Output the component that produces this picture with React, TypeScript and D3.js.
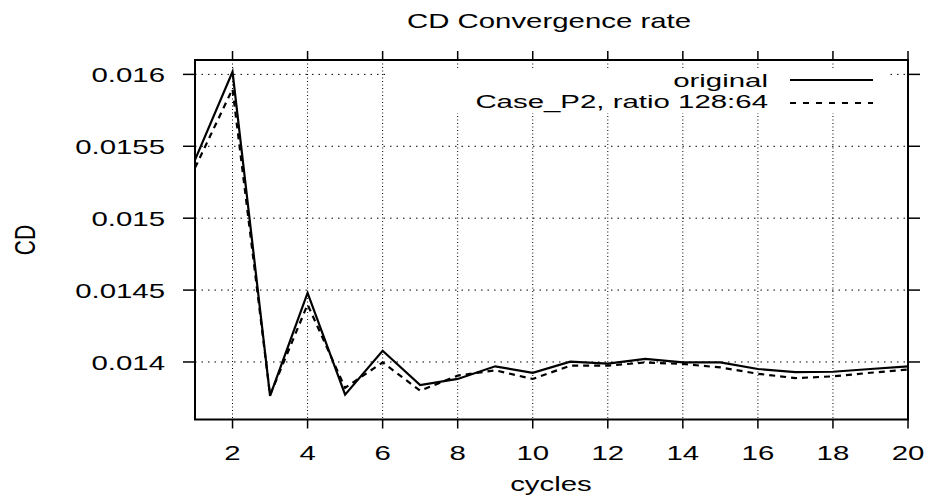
import React from "react";
import * as d3 from "d3";

const cycles = [1, 2, 3, 4, 5, 6, 7, 8, 9, 10, 11, 12, 13, 14, 15, 16, 17, 18, 19, 20];
const originalCD = [0.015405, 0.016018, 0.013765, 0.01448, 0.013773, 0.014078, 0.01384, 0.013882, 0.01397, 0.013924, 0.014002, 0.013988, 0.014021, 0.013997, 0.013997, 0.013951, 0.01393, 0.013932, 0.013951, 0.01397];
const caseP2CD = [0.01535, 0.015898, 0.01377, 0.0144, 0.01382, 0.013997, 0.0138, 0.013905, 0.013942, 0.013882, 0.013974, 0.013974, 0.013997, 0.013986, 0.013962, 0.013918, 0.013888, 0.0139, 0.013925, 0.013947];
const xTicks = [2, 4, 6, 8, 10, 12, 14, 16, 18, 20];
const yTicks = [0.014, 0.0145, 0.015, 0.0155, 0.016];
const yTickLabels = ["0.014", "0.0145", "0.015", "0.0155", "0.016"];
const seriesNames = ["original", "Case_P2, ratio 128:64"];

const W = 929;
const H = 504;
const L = 195, R = 908, T = 60, B = 419.5;
const FONT = "'Liberation Sans', Arial, Helvetica, sans-serif";
const FS = 21;
const SX = 1.4;

export default function App() {
  const x = d3.scaleLinear().domain([1, 20]).range([L, R]);
  const y = d3.scaleLinear().domain([0.0136, 0.0161]).range([B, T]);
  const line = d3
    .line<number>()
    .x((_, i) => x(cycles[i]))
    .y((d) => y(d));

  const txt = (
    key: string,
    tx: number,
    ty: number,
    s: string,
    anchor: "start" | "middle" | "end",
    rotate = 0,
    fs = FS,
    sx = SX
  ) => (
    <text
      key={key}
      transform={`translate(${tx},${ty}) scale(${sx},1)${rotate ? ` rotate(${rotate})` : ""}`}
      textAnchor={anchor}
      fontFamily={FONT}
      fontSize={fs}
      fill="#000"
    >
      {s}
    </text>
  );

  return (
    <svg
      width={W}
      height={H}
      style={{ position: "absolute", left: 0, top: 0, display: "block", background: "#fff" }}
    >
      <rect x={0} y={0} width={W} height={H} fill="#fff" />
      {/* grid */}
      {yTicks.map((v, i) => (
        <line key={"gy" + i} x1={L} x2={R} y1={y(v)} y2={y(v)} stroke="#000" strokeWidth={1} strokeDasharray="1.5,5" />
      ))}
      {xTicks.filter((v) => v < 20).map((v, i) => (
        <line key={"gx" + i} x1={x(v)} x2={x(v)} y1={T} y2={B} stroke="#000" strokeWidth={1} strokeDasharray="1,2.5" />
      ))}
      {/* key background */}
      <rect x={390} y={68} width={500} height={45} fill="#fff" />
      {/* data */}
      <path d={line(originalCD) || ""} fill="none" stroke="#000" strokeWidth={2.2} strokeLinejoin="miter" />
      <path d={line(caseP2CD) || ""} fill="none" stroke="#000" strokeWidth={2.2} strokeDasharray="6,5" />
      {/* frame */}
      <rect x={L} y={T} width={R - L} height={B - T} fill="none" stroke="#000" strokeWidth={2} />
      {/* ticks */}
      {xTicks.map((v, i) => (
        <g key={"tx" + i}>
          <line x1={x(v)} x2={x(v)} y1={B} y2={B + 9} stroke="#000" strokeWidth={1.5} />
          <line x1={x(v)} x2={x(v)} y1={T} y2={T - 9} stroke="#000" strokeWidth={1.5} />
        </g>
      ))}
      {yTicks.map((v, i) => (
        <g key={"ty" + i}>
          <line x1={L} x2={L - 12} y1={y(v)} y2={y(v)} stroke="#000" strokeWidth={1.5} />
          <line x1={R} x2={R + 12} y1={y(v)} y2={y(v)} stroke="#000" strokeWidth={1.5} />
        </g>
      ))}
      {/* tick labels */}
      {xTicks.map((v, i) => txt("xl" + i, x(v), 460, String(v), "middle"))}
      {yTicks.map((v, i) => txt("yl" + i, 165, y(v) + 8, yTickLabels[i], "end"))}
      {/* titles */}
      {txt("title", 549, 28, "CD Convergence rate", "middle")}
      {txt("xlab", 551, 491, "cycles", "middle")}
      {txt("ylab", 35, 240, "CD", "middle", -90)}
      {/* legend */}
      {txt("lg0", 768, 87, seriesNames[0], "end", 0, 18.5, 1.59)}
      {txt("lg1", 768, 108, seriesNames[1], "end", 0, 18.5, 1.59)}
      <line x1={790} x2={873} y1={80} y2={80} stroke="#000" strokeWidth={2} />
      <line x1={790} x2={873} y1={103} y2={103} stroke="#000" strokeWidth={2} strokeDasharray="6,7" />
    </svg>
  );
}
